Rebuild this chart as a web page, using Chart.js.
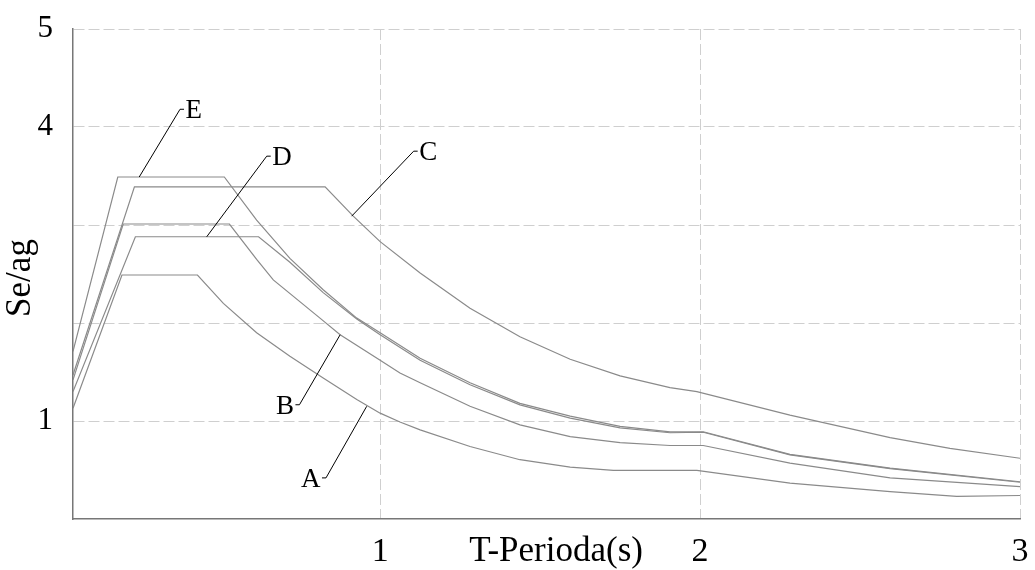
<!DOCTYPE html>
<html>
<head>
<meta charset="utf-8">
<script src="https://cdn.jsdelivr.net/npm/chart.js@4.4.1/dist/chart.umd.min.js"></script>
<style>
html,body{margin:0;padding:0;background:#fff;overflow:hidden}
#wrap{width:1035px;height:570px;position:relative}
</style>
</head>
<body>
<div id="wrap"><canvas id="c" width="1035" height="570"></canvas></div>
<script>
// ---- data: T (s) and Se/ag ----
const T_A  = [0.04, 0.193, 0.429, 0.51, 0.614, 0.718, 0.822, 0.927, 1.0, 1.062, 1.125, 1.281, 1.437, 1.594, 1.729, 1.99, 2.281, 2.594, 2.802, 3.0];
const SE_A = [1.13, 2.49, 2.49, 2.20, 1.90, 1.66, 1.44, 1.22, 1.08, 0.99, 0.91, 0.74, 0.605, 0.53, 0.496, 0.496, 0.367, 0.28, 0.23, 0.24];

const T_B  = [0.04, 0.197, 0.529, 0.614, 0.666, 0.812, 0.875, 1.0, 1.062, 1.125, 1.281, 1.437, 1.594, 1.75, 1.906, 2.01, 2.281, 2.594, 3.0];
const SE_B = [1.42, 3.01, 3.01, 2.65, 2.44, 2.05, 1.88, 1.62, 1.49, 1.39, 1.15, 0.96, 0.84, 0.78, 0.75, 0.75, 0.57, 0.42, 0.33];

const T_C  = [0.04, 0.232, 0.828, 0.916, 1.0, 1.125, 1.281, 1.437, 1.594, 1.75, 1.906, 1.99, 2.281, 2.594, 2.781, 3.0];
const SE_C = [1.47, 3.39, 3.39, 3.09, 2.83, 2.51, 2.15, 1.86, 1.63, 1.46, 1.34, 1.30, 1.06, 0.83, 0.72, 0.62];

const T_D  = [0.04, 0.235, 0.62, 0.718, 0.822, 0.927, 1.0, 1.125, 1.281, 1.437, 1.594, 1.75, 1.906, 2.01, 2.281, 2.594, 3.0];
const SE_D = [1.30, 2.88, 2.88, 2.62, 2.31, 2.04, 1.88, 1.62, 1.37, 1.165, 1.03, 0.93, 0.88, 0.885, 0.655, 0.515, 0.375];

const T_E  = [0.04, 0.18, 0.513, 0.614, 0.718, 0.822, 0.927, 1.0, 1.125, 1.281, 1.437, 1.594, 1.75, 1.906, 2.01, 2.281, 2.594, 3.0];
const SE_E = [1.71, 3.49, 3.49, 3.05, 2.66, 2.34, 2.05, 1.90, 1.64, 1.39, 1.18, 1.05, 0.945, 0.89, 0.89, 0.66, 0.52, 0.38];

const SERIES_NAMES = ['A', 'B', 'C', 'D', 'E'];
const SERIES_T  = [T_A, T_B, T_C, T_D, T_E];
const SERIES_SE = [SE_A, SE_B, SE_C, SE_D, SE_E];

// points on each curve where its letter's leader line starts (T, Se/ag)
const LABEL_T  = [0.958, 0.875, 0.911, 0.458, 0.247];
const LABEL_SE = [1.15, 1.88, 3.09, 2.88, 3.49];

const X_TICKS = [1, 2, 3];
const Y_TICKS = [1, 2, 3, 4, 5];
const Y_TICK_TEXT = {1: '1', 4: '4', 5: '5'};
const X_TITLE = 'T-Perioda(s)';
const Y_TITLE = 'Se/ag';

// ---- layout / style ----
const FONT = '"Liberation Serif", "Times New Roman", serif';
const LEADERS = { // pixel offsets of leader end from curve point, side of text
  A: {dx: -40.7, dy: 71.6, side: 'left'},
  B: {dx: -40.7, dy: 70.0, side: 'left'},
  C: {dx: 62.0,  dy: -65.0, side: 'right'},
  D: {dx: 60.0,  dy: -80.6, side: 'right'},
  E: {dx: 40.8,  dy: -67.7, side: 'right'}
};

const datasets = SERIES_NAMES.map((n, k) => ({
  label: n,
  data: SERIES_T[k].map((t, i) => ({x: t, y: SERIES_SE[k][i]})),
  borderColor: '#8a8a8a',
  borderWidth: 1.2,
  pointRadius: 0,
  fill: false,
  tension: 0
}));

const noEdgePadding = s => {
  s.paddingLeft = 0; s.paddingRight = 0; s.paddingTop = 0; s.paddingBottom = 0;
};

const annotatePlugin = {
  id: 'annot',
  afterDatasetsDraw(chart) {
    const ctx = chart.ctx;
    const xs = chart.scales.x, ys = chart.scales.y;
    ctx.save();
    // curve letters with leader lines
    ctx.strokeStyle = '#000';
    ctx.fillStyle = '#000';
    ctx.lineWidth = 1;
    ctx.font = '27px ' + FONT;
    ctx.textBaseline = 'middle';
    SERIES_NAMES.forEach((n, k) => {
      const L = LEADERS[n];
      const px = xs.getPixelForValue(LABEL_T[k]);
      const py = ys.getPixelForValue(LABEL_SE[k]);
      const ex = px + L.dx, ey = py + L.dy;
      const dir = L.side === 'right' ? 1 : -1;
      const tx = ex + dir * 4;
      ctx.beginPath();
      ctx.moveTo(px, py);
      ctx.lineTo(ex, ey);
      ctx.lineTo(tx, ey);
      ctx.stroke();
      ctx.textAlign = L.side === 'right' ? 'left' : 'right';
      ctx.fillText(n, tx + dir * 1.5, ey + 2);
    });
    // axis titles
    ctx.font = '35px ' + FONT;
    ctx.textAlign = 'center';
    ctx.textBaseline = 'middle';
    const p1 = xs.getPixelForValue(1), p2 = xs.getPixelForValue(2);
    ctx.fillText(X_TITLE, p1 + 0.55 * (p2 - p1), chart.chartArea.bottom + 33);
    ctx.font = '35px ' + FONT;
    ctx.save();
    ctx.translate(30, (chart.chartArea.top + chart.chartArea.bottom) / 2 + 4);
    ctx.rotate(-Math.PI / 2);
    ctx.textBaseline = 'alphabetic';
    ctx.fillText(Y_TITLE, 0, 0);
    ctx.restore();
    ctx.restore();
  }
};

new Chart(document.getElementById('c'), {
  type: 'line',
  data: {datasets},
  options: {
    responsive: false,
    animation: false,
    devicePixelRatio: 1,
    layout: {padding: {top: 29, right: 15, left: 0, bottom: 0}},
    plugins: {legend: {display: false}, tooltip: {enabled: false}, title: {display: false}},
    scales: {
      x: {
        type: 'linear',
        min: 0.04,
        max: 3,
        afterBuildTicks: s => { s.ticks = X_TICKS.map(v => ({value: v})); },
        afterFit: s => { s.height = 51; noEdgePadding(s); },
        grid: {color: '#cfcfcf', lineWidth: 1, drawTicks: false},
        border: {display: true, color: '#777', width: 1.5, dash: [11, 4]},
        ticks: {padding: 13, maxRotation: 0, autoSkip: false, color: '#000',
                font: {family: FONT, size: 34}, callback: v => String(v)}
      },
      y: {
        type: 'linear',
        min: 0,
        max: 5,
        afterBuildTicks: s => { s.ticks = Y_TICKS.map(v => ({value: v})); },
        afterFit: s => { s.width = 73; noEdgePadding(s); },
        grid: {color: '#cfcfcf', lineWidth: 1, drawTicks: false},
        border: {display: true, color: '#777', width: 1.5, dash: [11, 4]},
        ticks: {padding: 20, autoSkip: false, color: '#000',
                font: {family: FONT, size: 31}, callback: v => (Y_TICK_TEXT[v] || '')}
      }
    }
  },
  plugins: [annotatePlugin]
});
</script>
</body>
</html>
